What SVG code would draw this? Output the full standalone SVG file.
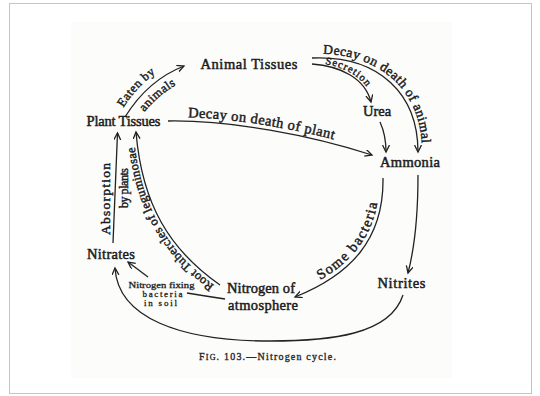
<svg xmlns="http://www.w3.org/2000/svg" width="540" height="396" viewBox="0 0 540 396">
<style>
.node{font-family:"Liberation Serif","Times New Roman",serif;font-size:14.5px;fill:#1c1c1c;stroke:#1c1c1c;stroke-width:0.5;text-anchor:middle}
.lbl{font-family:"Liberation Serif","Times New Roman",serif;fill:#1c1c1c;stroke:#1c1c1c;stroke-width:0.45}
.small{font-family:"Liberation Serif","Times New Roman",serif;font-size:9px;fill:#1c1c1c;stroke:#1c1c1c;stroke-width:0.3;text-anchor:middle}
.cap{font-family:"Liberation Serif","Times New Roman",serif;font-size:10px;fill:#2a2a2a;stroke:#2a2a2a;stroke-width:0.35;text-anchor:middle}
.conn path{fill:none;stroke:#222;stroke-width:1.3}
.guide{fill:none;stroke:none}
</style>
<defs>
<marker id="arr" markerWidth="10" markerHeight="10" refX="7" refY="3.5" orient="auto" markerUnits="userSpaceOnUse">
<path d="M0,0 L7,3.5 L0,7" fill="none" stroke="#222" stroke-width="1.3"/>
</marker>
<path id="gEaten" class="guide" d="M120,113 Q143,74 182,59"/>
<path id="gAnimals" class="guide" d="M133,128 Q156,91 194,76"/>
<path id="gPlant" class="guide" d="M168,117 C 230,116 312,131 374,151"/>
<path id="gAnimal" class="guide" d="M312,54 C 383,51 422,94 422,150"/>
<path id="gSecretion" class="guide" d="M313,62.5 C 342,64.5 366,76.5 373,100"/>
<path id="gBacteria" class="guide" d="M293,293 C 347,271 380,238 379,178"/>
<path id="gRoot" class="guide" d="M217.5,287.5 C 167.5,252.5 139.5,206 133.5,134"/>
</defs>
<rect x="0" y="0" width="540" height="396" fill="#ffffff"/>
<rect x="9.5" y="3.5" width="522" height="390" fill="#ffffff" stroke="#c4c4c4" stroke-width="1"/>
<rect x="71" y="22" width="381" height="356" fill="#fcfcfb"/>

<g id="connectors" class="conn">
<path d="M125,117 Q148,80 184,66" marker-end="url(#arr)"/>
<path d="M168,121 C 230,120 310,135 372,155" marker-end="url(#arr)"/>
<path d="M312,58 C 380,55 418,95 418,152" marker-end="url(#arr)"/>
<path d="M312,64 C 340,66 365,78 371,102" marker-end="url(#arr)"/>
<path d="M380,122 Q386,135 386,152" marker-end="url(#arr)"/>
<path d="M418,175 C 418,220 414,250 408,273" marker-end="url(#arr)"/>
<path d="M383,178 C 384,240 350,275 295,297" marker-end="url(#arr)"/>
<path d="M220,285 C 170,250 142,205 136,132" marker-end="url(#arr)"/>
<path d="M113,243 L117.5,133" marker-end="url(#arr)"/>
<path d="M148,277 L128,262" marker-end="url(#arr)"/>
<path d="M187,293 Q205,296 225,299"/>
<path d="M403,295 C 390,335 330,341 270,341 C 180,341 118,318 115,268" marker-end="url(#arr)"/>
</g>

<g id="labels">
<text class="lbl" font-size="12.5" letter-spacing="0.5"><textPath href="#gEaten" startOffset="6">Eaten by</textPath></text>
<text class="lbl" font-size="12.5" letter-spacing="0.5" text-anchor="middle"><textPath href="#gAnimals" startOffset="50%">animals</textPath></text>
<text class="lbl" font-size="14.5" letter-spacing="0.4"><textPath href="#gPlant" startOffset="20">Decay on death of plant</textPath></text>
<text class="lbl" font-size="13.5" letter-spacing="0.4"><textPath href="#gAnimal" startOffset="11">Decay on death of animal</textPath></text>
<text class="lbl" font-size="10.5" letter-spacing="1.1"><textPath href="#gSecretion" startOffset="12">Secretion</textPath></text>
<text class="lbl" font-size="14.5" letter-spacing="1.4"><textPath href="#gBacteria" startOffset="30">Some bacteria</textPath></text>
<text class="lbl" font-size="12.5" letter-spacing="0.3"><textPath href="#gRoot" startOffset="4">Root Tubercles of leguminosae</textPath></text>
<text class="lbl" font-size="13.5" text-anchor="middle" textLength="72" lengthAdjust="spacing" transform="translate(110,199) rotate(-90)">Absorption</text>
<text class="lbl" font-size="12" text-anchor="middle" textLength="40" lengthAdjust="spacing" transform="translate(127.5,188) rotate(-90)">by plants</text>
</g>

<g id="n-animal"><text class="node" x="249" y="69" textLength="97" lengthAdjust="spacing">Animal Tissues</text></g>
<g id="n-plant"><text class="node" x="123.5" y="126" textLength="74" lengthAdjust="spacing">Plant Tissues</text></g>
<g id="n-urea"><text class="node" x="377" y="115.5">Urea</text></g>
<g id="n-ammonia"><text class="node" x="410" y="167" textLength="60" lengthAdjust="spacing">Ammonia</text></g>
<g id="n-nitrates"><text class="node" x="111" y="259" textLength="48" lengthAdjust="spacing">Nitrates</text></g>
<g id="n-nitrites"><text class="node" x="401.5" y="288" textLength="48" lengthAdjust="spacing">Nitrites</text></g>
<g id="n-nitrogen"><text class="node" x="261" y="293" textLength="68" lengthAdjust="spacing">Nitrogen of</text><text class="node" x="263" y="310" textLength="70" lengthAdjust="spacing">atmosphere</text></g>
<g id="n-bacteria"><text class="small" x="161.5" y="288" textLength="66" lengthAdjust="spacingAndGlyphs">Nitrogen fixing</text><text class="small" x="162.5" y="297" textLength="40" lengthAdjust="spacing">bacteria</text><text class="small" x="160.5" y="306" textLength="33" lengthAdjust="spacing">in soil</text></g>
<g id="caption"><text class="cap" x="267.5" y="360" textLength="137" lengthAdjust="spacing">F<tspan font-size="8">IG</tspan>. 103.—Nitrogen cycle.</text></g>
</svg>
